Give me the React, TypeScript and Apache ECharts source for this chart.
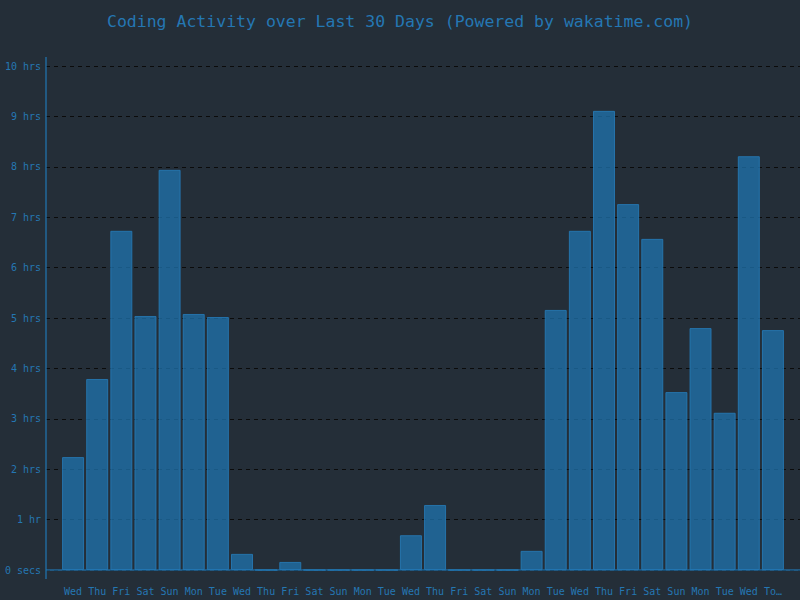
import React, { useEffect, useRef } from "react";
import * as echarts from "echarts";

const categories = [
  "Wed", "Thu", "Fri", "Sat", "Sun", "Mon", "Tue", "Wed", "Thu", "Fri",
  "Sat", "Sun", "Mon", "Tue", "Wed", "Thu", "Fri", "Sat", "Sun", "Mon",
  "Tue", "Wed", "Thu", "Fri", "Sat", "Sun", "Mon", "Tue", "Wed", "Today",
];

const hours = [
  2.24, 3.79, 6.73, 5.04, 7.94, 5.08, 5.02, 0.32, 0, 0.16,
  0, 0, 0, 0, 0.69, 1.29, 0, 0, 0, 0.38,
  5.16, 6.73, 9.11, 7.26, 6.57, 3.53, 4.8, 3.12, 8.21, 4.76,
];

const yTickLabels = [
  "0 secs", "1 hr", "2 hrs", "3 hrs", "4 hrs", "5 hrs",
  "6 hrs", "7 hrs", "8 hrs", "9 hrs", "10 hrs",
];

const FONT = "'DejaVu Sans Mono', 'Liberation Mono', monospace";
const TEXT = "#2477b3";
const AXIS = "rgba(31,119,180,0.6)";

export default function App() {
  const ref = useRef<HTMLDivElement>(null);
  useEffect(() => {
    document.body.style.margin = "0";
    const chart = echarts.init(ref.current!, null, { renderer: "svg" });
    chart.setOption({
      animation: false,
      backgroundColor: "#242e38",
      title: {
        text: "Coding Activity over Last 30 Days (Powered by wakatime.com)",
        left: "center",
        top: 8,
        textStyle: { fontFamily: FONT, fontSize: 16.5, fontWeight: "normal", color: TEXT },
      },
      grid: [
        { left: 46, right: 0, top: 66, bottom: 30 },
        { left: 61, right: 15, top: 66, bottom: 30 },
      ],
      xAxis: [
        { type: "value", gridIndex: 0, min: 0, max: 1, show: false },
        {
          type: "category",
          gridIndex: 1,
          data: categories,
          axisLine: { show: false },
          axisTick: { show: false },
          axisLabel: {
            interval: 0,
            margin: 16,
            fontFamily: FONT,
            fontSize: 10,
            color: TEXT,
            width: 24,
            overflow: "truncate",
            ellipsis: "…",
          },
        },
      ],
      yAxis: [
        {
          type: "value",
          gridIndex: 0,
          min: 0,
          max: 10,
          interval: 1,
          axisLine: { show: false },
          axisTick: { show: false },
          axisLabel: {
            margin: 5,
            fontFamily: FONT,
            fontSize: 10,
            color: TEXT,
            formatter: (v: number) => yTickLabels[Math.round(v)] ?? "",
          },
          splitLine: { show: true, lineStyle: { color: "#0b0b0b", type: [4, 4], width: 1 } },
        },
        { type: "value", gridIndex: 1, min: 0, max: 10, show: false },
      ],
      series: [
        {
          type: "bar",
          xAxisIndex: 1,
          yAxisIndex: 1,
          data: hours,
          barWidth: 22,
          itemStyle: {
            color: "rgba(31,119,180,0.72)",
            borderColor: "rgba(38,122,182,0.85)",
            borderWidth: 1,
          },
        },
      ],
      graphic: [
        {
          type: "line",
          z: 100,
          shape: { x1: 46, y1: 57, x2: 46, y2: 579 },
          style: { stroke: AXIS, lineWidth: 2 },
        },
        {
          type: "line",
          z: 100,
          shape: { x1: 46, y1: 570, x2: 800, y2: 570 },
          style: { stroke: AXIS, lineWidth: 2 },
        },
      ],
    });
    return () => chart.dispose();
  }, []);
  return <div ref={ref} style={{ width: 800, height: 600 }} />;
}
